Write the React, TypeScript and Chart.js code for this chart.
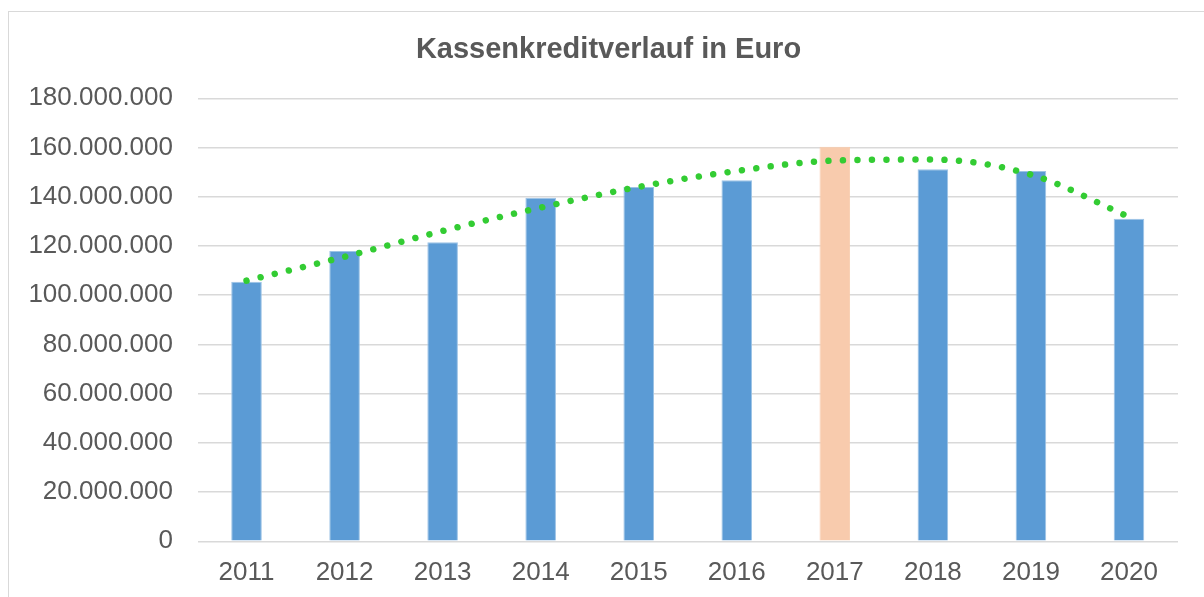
import React, { useEffect, useRef } from "react";
import { Chart, registerables } from "chart.js";

Chart.register(...registerables);

const years = ["2011", "2012", "2013", "2014", "2015", "2016", "2017", "2018", "2019", "2020"];
const kassenkredit = [105500000, 118000000, 121500000, 139600000, 144000000, 146700000, 160300000, 151200000, 150500000, 131100000];
const trend = [105900000, 115600000, 126100000, 135600000, 144000000, 150500000, 154700000, 155100000, 149000000, 131800000];
const barColors = ["#5B9BD5", "#5B9BD5", "#5B9BD5", "#5B9BD5", "#5B9BD5", "#5B9BD5", "#F8CBAD", "#5B9BD5", "#5B9BD5", "#5B9BD5"];
const barBorders = ["#9DC3E6", "#9DC3E6", "#9DC3E6", "#9DC3E6", "#9DC3E6", "#9DC3E6", "#F8CBAD", "#9DC3E6", "#9DC3E6", "#9DC3E6"];
const title = "Kassenkreditverlauf in Euro";

const FONT = "'Liberation Sans', Arial, sans-serif";

export default function App() {
  const ref = useRef<HTMLCanvasElement | null>(null);

  useEffect(() => {
    if (!ref.current) return;
    const chart = new Chart(ref.current, {
      type: "bar",
      data: {
        labels: years,
        datasets: [
          {
            type: "line",
            data: trend,
            borderColor: "#33CC33",
            borderWidth: 6.5,
            borderDash: [0.01, 14.5],
            borderCapStyle: "round",
            pointRadius: 0,
            cubicInterpolationMode: "monotone",
            fill: false,
            order: 0,
          } as any,
          {
            type: "bar",
            data: kassenkredit,
            backgroundColor: barColors,
            borderColor: barBorders,
            borderWidth: 1,
            barPercentage: 0.312,
            categoryPercentage: 1,
            order: 1,
          },
        ],
      },
      options: {
        animation: false,
        responsive: false,
        maintainAspectRatio: false,
        layout: { padding: { left: 13, right: 0, top: 0, bottom: 0 } },
        plugins: {
          legend: { display: false },
          tooltip: { enabled: false },
          title: {
            display: true,
            text: title,
            color: "#595959",
            font: { family: FONT, size: 29, weight: "bold" },
            padding: { top: 33, bottom: 30.5 },
          },
        },
        scales: {
          x: {
            grid: { display: false, drawTicks: false },
            border: { display: false },
            ticks: {
              color: "#595959",
              font: { family: FONT, size: 26 },
              padding: 16,
              maxRotation: 0,
            },
            afterFit: (s: any) => {
              s.height = 597 - 541.3;
            },
          },
          y: {
            min: 0,
            max: 180000000,
            ticks: {
              stepSize: 20000000,
              color: "#595959",
              font: { family: FONT, size: 26 },
              padding: 24.5,
              callback: (v: any) => Number(v).toLocaleString("de-DE"),
            },
            grid: { color: "#D9D9D9", lineWidth: 1.5, drawTicks: false },
            border: { display: false },
            afterFit: (s: any) => {
              s.width = 197.5 - 13;
            },
          },
          spacer: {
            type: "linear",
            position: "right",
            display: true,
            grid: { display: false, drawTicks: false },
            border: { display: false },
            ticks: { display: false },
            afterFit: (s: any) => {
              s.width = 26;
            },
          },
        },
      },
    });
    return () => chart.destroy();
  }, []);

  return (
    <div style={{ position: "fixed", left: 0, top: 0, width: 1204, height: 597, overflow: "hidden", background: "#fff" }}>
      <div
        style={{
          position: "absolute",
          left: 8,
          top: 11,
          width: 1300,
          height: 700,
          border: "1px solid #D9D9D9",
        }}
      />
      <canvas ref={ref} width={1204} height={597} style={{ position: "absolute", left: 0, top: 0, width: 1204, height: 597 }} />
    </div>
  );
}
